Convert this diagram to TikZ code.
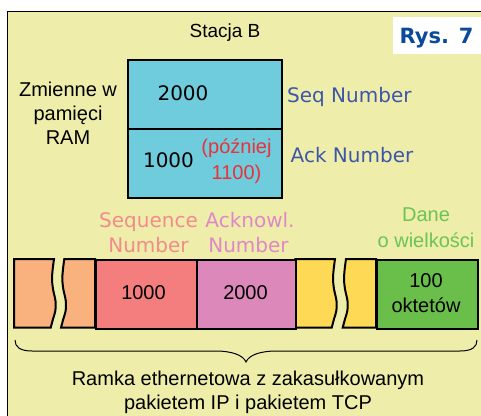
\documentclass[tikz,border=0pt]{standalone}
\usepackage{fontspec}
\setmainfont{Liberation Sans}
\newfontfamily\dejavu{DejaVu Sans}
\definecolor{panel}{HTML}{EEEDAA}
\definecolor{ramblue}{HTML}{6ECCDC}
\definecolor{hdrorange}{HTML}{F9B17D}
\definecolor{seqred}{HTML}{F47E7E}
\definecolor{ackpink}{HTML}{DD88BB}
\definecolor{hdryellow}{HTML}{FDD955}
\definecolor{datagreen}{HTML}{6ABF4B}
\definecolor{fieldblue}{HTML}{3E56A8}
\definecolor{rysblue}{HTML}{0A4A98}
\definecolor{noteRed}{HTML}{E8323C}
\definecolor{seqlabel}{HTML}{F28C8C}
\definecolor{acklabel}{HTML}{E087C8}
\definecolor{datalabel}{HTML}{6CC455}
\begin{document}
\begin{tikzpicture}[x=1pt,y=-1pt,
  txt/.style={font=\fontsize{20}{25}\selectfont, inner sep=0pt, anchor=base},
  dvtxt/.style={font=\dejavu\fontsize{20}{25}\selectfont, inner sep=0pt, anchor=base},
  cell/.style={draw=black, line width=2pt, inner sep=0pt, anchor=north west},
  piece/.style={draw=black, line width=2pt},
  brace line/.style={draw=black, line width=1pt}]
\useasboundingbox (0,0) rectangle (481,415);
\fill[white] (0,0) rectangle (481,415);
% panel
\begin{scope}
  \clip (0,0) rectangle (481,415);
  \filldraw[fill=panel, draw=black, line width=1.5pt] (7.5,11.5) rectangle (495,430);
\end{scope}
% figure tag
\node[fill=white, minimum width=88pt, minimum height=37pt, inner sep=0pt, anchor=north west] (tag) at (393,17) {};
\node[font=\dejavu\bfseries\fontsize{21}{25}\selectfont, text=rysblue, inner sep=0pt, anchor=base] (rys) at (436.5,43.3) {Rys. 7};

% station B variables
\node[txt, font=\fontsize{19}{24}\selectfont] (station) at (225,37.7) {Stacja B};
\node[txt] (vars1) at (68,96) {Zmienne w};
\node[txt] (vars2) at (68,120) {pamięci};
\node[txt] (vars3) at (68,144) {RAM};

\node[cell, fill=ramblue, minimum width=154pt, minimum height=68.7pt] (seqvar) at (126.7,59) {};
\node[cell, fill=ramblue, minimum width=154pt, minimum height=69.3pt] (ackvar) at (126.7,127.7) {};
\node[dvtxt] (seqval) at (183,100) {2000};
\node[dvtxt] (ackval) at (168.5,167.7) {1000};
\node[txt, text=noteRed] (later1) at (236.5,153) {(później};
\node[txt, text=noteRed] (later2) at (236.5,179.3) {1100)};
\node[dvtxt, text=fieldblue, anchor=base west] (seqname) at (287,102.7) {Seq Number};
\node[dvtxt, text=fieldblue, anchor=base west] (ackname) at (290.5,162.7) {Ack Number};

% field captions
\node[dvtxt, text=seqlabel] (seqcap1) at (148.5,227.7) {Sequence};
\node[dvtxt, text=seqlabel] (seqcap2) at (148.5,252.7) {Number};
\node[dvtxt, text=acklabel] (ackcap1) at (250,227.7) {Acknowl.};
\node[dvtxt, text=acklabel] (ackcap2) at (248.5,252.7) {Number};
\node[txt, text=datalabel] (datacap1) at (426,221.7) {Dane};
\node[txt, text=datalabel] (datacap2) at (426,247.7) {o wielkości};

% frame: broken header pieces
\begin{scope}[shift={(54,259)}]
  \filldraw[piece, fill=hdrorange] (-40,0) -- plot[smooth] coordinates {(0,0) (-1.3,10) (-2,20) (-1,30) (1.5,42) (1.3,52) (-1,60) (-3.3,68.7)} -- (-40,68.7) -- cycle;
\end{scope}
\begin{scope}[shift={(64.3,259)}]
  \filldraw[piece, fill=hdrorange] (0,0) -- (30.7,0) -- (30.7,68.7) -- plot[smooth] coordinates {(-3.3,68.7) (-1,60) (1.3,52) (1.5,42) (-1,30) (-2,20) (-1.3,10) (0,0)} -- cycle;
\end{scope}
\begin{scope}[shift={(335,259)}]
  \filldraw[piece, fill=hdryellow] (-39.7,0) -- plot[smooth] coordinates {(0,0) (-1.3,10) (-2,20) (-1,30) (1.5,42) (1.3,52) (-1,60) (-3.3,68.7)} -- (-39.7,68.7) -- cycle;
\end{scope}
\begin{scope}[shift={(346,259)}]
  \filldraw[piece, fill=hdryellow] (0,0) -- (30,0) -- (30,68.7) -- plot[smooth] coordinates {(-3.3,68.7) (-1,60) (1.3,52) (1.5,42) (-1,30) (-2,20) (-1.3,10) (0,0)} -- cycle;
\end{scope}

% frame: TCP fields
\node[cell, fill=seqred, minimum width=100.7pt, minimum height=68.7pt] (seqfield) at (95,259) {};
\node[cell, fill=ackpink, minimum width=99.6pt, minimum height=68.7pt] (ackfield) at (195.7,259) {};
\node[cell, fill=datagreen, minimum width=101.3pt, minimum height=68.7pt] (datafield) at (376,259) {};
\node[txt] (seqnum) at (143.5,299) {1000};
\node[txt] (acknum) at (245.5,299) {2000};
\node[txt] (datasize1) at (426,287.7) {100};
\node[txt] (datasize2) at (426,312.7) {oktetów};

% brace under the frame
\coordinate (braceL) at (15,340);
\coordinate (braceTip) at (246,362);
\coordinate (braceR) at (477,340);
\draw[brace line] (braceL) .. controls (15,347) and (20,351) .. (32,351) -- (215,351)
  .. controls (232,351) and (243,355) .. (braceTip)
  .. controls (249,355) and (260,351) .. (277,351) -- (460,351)
  .. controls (472,351) and (477,347) .. (braceR);

\node[txt] (caption1) at (248,385) {Ramka ethernetowa z zakasułkowanym};
\node[txt] (caption2) at (248,409) {pakietem IP i pakietem TCP};
\end{tikzpicture}
\end{document}
